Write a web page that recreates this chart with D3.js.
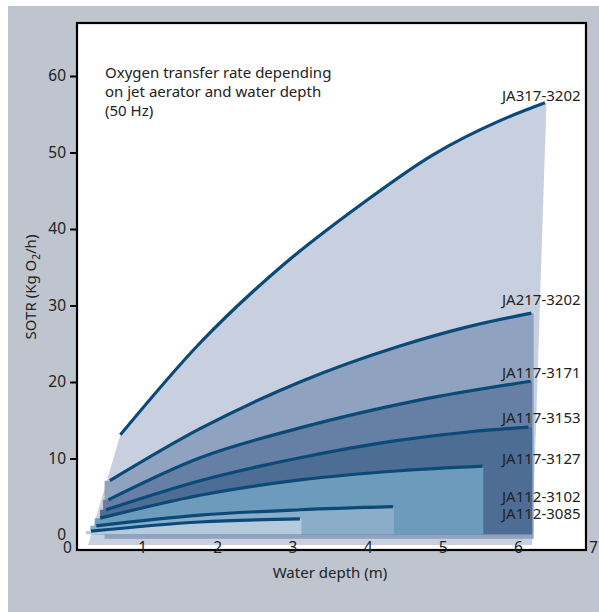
<!DOCTYPE html>
<html>
<head>
<meta charset="utf-8">
<script src="https://cdn.jsdelivr.net/npm/d3@7"></script>
<style>
  body { margin: 0; background: #fff; }
  svg { display: block; font-family: "Noto Sans", Lato, sans-serif; }
</style>
</head>
<body>
<div class="vis-aerator"></div>
<script>
// series names, from the largest aerator down
const names = ["JA317-3202", "JA217-3202", "JA117-3171", "JA117-3153", "JA117-3127", "JA112-3102", "JA112-3085"];

// water depth (m) and SOTR (kg O2/h)
const depth317 = [0.71, 1.77, 2.84, 3.94, 4.87, 5.77, 6.36];
const sotr317  = [13.1, 25.1, 35.0, 43.4, 49.7, 54.2, 56.5];
const depth217 = [0.57, 1.77, 3.10, 4.43, 5.33, 6.18];
const sotr217  = [7.1, 13.9, 20.0, 24.7, 27.2, 29.0];
const depth3171 = [0.55, 1.77, 3.10, 4.67, 6.17];
const sotr3171  = [4.6, 10.1, 14.0, 17.6, 20.1];
const depth3153 = [0.52, 1.77, 3.10, 4.43, 5.37, 6.14];
const sotr3153  = [3.3, 7.1, 10.1, 12.4, 13.5, 14.1];
const depth3127 = [0.44, 1.77, 3.10, 4.43, 5.53];
const sotr3127  = [2.2, 5.2, 7.2, 8.4, 9.0];
const depth3102 = [0.39, 1.77, 3.10, 4.34];
const sotr3102  = [1.2, 2.6, 3.3, 3.7];
const depth3085 = [0.32, 1.77, 3.10];
const sotr3085  = [0.5, 1.7, 2.1];

// operating region of each aerator (depth at left/right edge, SOTR at bottom)
const areaLeft     = [0.28, 0.50, 0.48, 0.44, 0.37, 0.31, 0.25];
const areaLeftTop  = [0.71, 0.50, 0.48, 0.44, 0.37, 0.31, 0.25];
const areaRightTop = [6.38, 6.21, 6.19, 6.19, 5.54, 4.35, 3.12];
const areaRight    = [6.19, 6.21, 6.19, 6.19, 5.54, 4.35, 3.12];
const areaBase     = [-1.3, -0.5, 0.1, 0.1, 0.1, 0.1, 0.1];
const fills = ["#c8cfde", "#8fa2bf", "#6580a4", "#4d6d95", "#6d9bbc", "#8aaec9", "#b6cade"];

// label nudge (px) from the end of each curve
const labelDy = [-2, -8, -3, -4, -2, -5, 0];

const xTicks = [0, 1, 2, 3, 4, 5, 6, 7];
const yTicks = [0, 10, 20, 30, 40, 50, 60];

const titleLines = ["Oxygen transfer rate depending", "on jet aerator and water depth", "(50 Hz)"];

const depths = [depth317, depth217, depth3171, depth3153, depth3127, depth3102, depth3085];
const sotrs = [sotr317, sotr217, sotr3171, sotr3153, sotr3127, sotr3102, sotr3085];
const series = names.map((name, i) => ({
    name,
    points: depths[i].map((d, j) => [d, sotrs[i][j]]),
    left: areaLeft[i], leftTop: areaLeftTop[i],
    rightTop: areaRightTop[i], right: areaRight[i],
    base: areaBase[i], fill: fills[i], dy: labelDy[i]
}));

const W = 599, H = 612;
const frame = { left: 77, top: 23, right: 586, bottom: 550 };
const textColor = "#222";

const svg = d3.select(".vis-aerator")
    .append("svg")
    .attr("width", W)
    .attr("height", H);

// grey page panel
svg.append("rect")
    .attr("x", 8).attr("y", 6)
    .attr("width", W - 8).attr("height", H - 6)
    .attr("fill", "#bfc5cf");

svg.append("rect")
    .attr("x", frame.left).attr("y", frame.top)
    .attr("width", frame.right - frame.left)
    .attr("height", frame.bottom - frame.top)
    .attr("fill", "#fff");

const x = d3.scaleLinear().domain([0, 7]).range([67, 593]);
const y = d3.scaleLinear().domain([0, 60]).range([535, 76]);

const line = d3.line()
    .x(d => x(d[0]))
    .y(d => y(d[1]))
    .curve(d3.curveMonotoneX);

// filled regions, biggest first so the small ones sit on top
series.forEach(s => {
    const first = s.points[0];
    const last = s.points[s.points.length - 1];
    const curve = line(s.points).replace(/^M/, "L");
    const d = `M${x(s.left)},${y(s.base)}`
        + `L${x(s.leftTop)},${y(first[1])}`
        + curve
        + `L${x(s.rightTop)},${y(last[1])}`
        + `L${x(s.right)},${y(s.base)}Z`;
    svg.append("path")
        .attr("d", d)
        .attr("fill", s.fill);
});

series.forEach(s => {
    svg.append("path")
        .datum(s.points)
        .attr("fill", "none")
        .attr("stroke", "#0b4a78")
        .attr("stroke-width", 3.2)
        .attr("d", line);
});

// frame
svg.append("rect")
    .attr("x", frame.left).attr("y", frame.top)
    .attr("width", frame.right - frame.left)
    .attr("height", frame.bottom - frame.top)
    .attr("fill", "none")
    .attr("stroke", "#000")
    .attr("stroke-width", 2.2);

// Y axis
const yAxis = svg.append("g")
    .attr("transform", `translate(${frame.left},0)`)
    .call(d3.axisLeft(y).tickValues(yTicks).tickSize(7).tickPadding(4));
yAxis.select(".domain").remove();
yAxis.selectAll(".tick line").attr("stroke", "#000").attr("stroke-width", 2)
    .filter(d => d === 0).remove();
yAxis.selectAll(".tick text")
    .attr("font-size", 15.5)
    .attr("font-family", "'Noto Sans', sans-serif")
    .attr("fill", textColor);

// X axis, labels sit on the axis line
const xAxis = svg.append("g")
    .attr("transform", `translate(0,${frame.bottom})`)
    .call(d3.axisBottom(x).tickValues(xTicks).tickFormat(d3.format("d")).tickSize(0).tickPadding(-8));
xAxis.select(".domain").remove();
xAxis.selectAll(".tick text")
    .attr("font-size", 15.5)
    .attr("font-family", "'Noto Sans', sans-serif")
    .attr("fill", textColor);

// series labels
series.forEach(s => {
    const last = s.points[s.points.length - 1];
    svg.append("text")
        .attr("x", 502)
        .attr("y", y(last[1]) + s.dy)
        .attr("font-size", 15)
        .attr("fill", textColor)
        .text(s.name);
});

// title
svg.append("text")
    .attr("x", 105)
    .attr("y", 78)
    .attr("font-size", 15)
    .attr("fill", textColor)
    .selectAll("tspan")
    .data(titleLines)
    .join("tspan")
    .attr("x", 105)
    .attr("dy", (d, i) => i === 0 ? 0 : 19)
    .text(d => d);

// axis titles
svg.append("text")
    .attr("x", 330)
    .attr("y", 578)
    .attr("text-anchor", "middle")
    .attr("font-size", 15)
    .attr("fill", textColor)
    .text("Water depth (m)");

const yTitle = svg.append("text")
    .attr("transform", "translate(36,287) rotate(-90)")
    .attr("text-anchor", "middle")
    .attr("font-size", 15)
    .attr("fill", textColor);
yTitle.append("tspan").text("SOTR (Kg O");
yTitle.append("tspan").attr("font-size", 10).attr("dy", 4).text("2");
yTitle.append("tspan").attr("dy", -4).text("/h)");
</script>
</body>
</html>
